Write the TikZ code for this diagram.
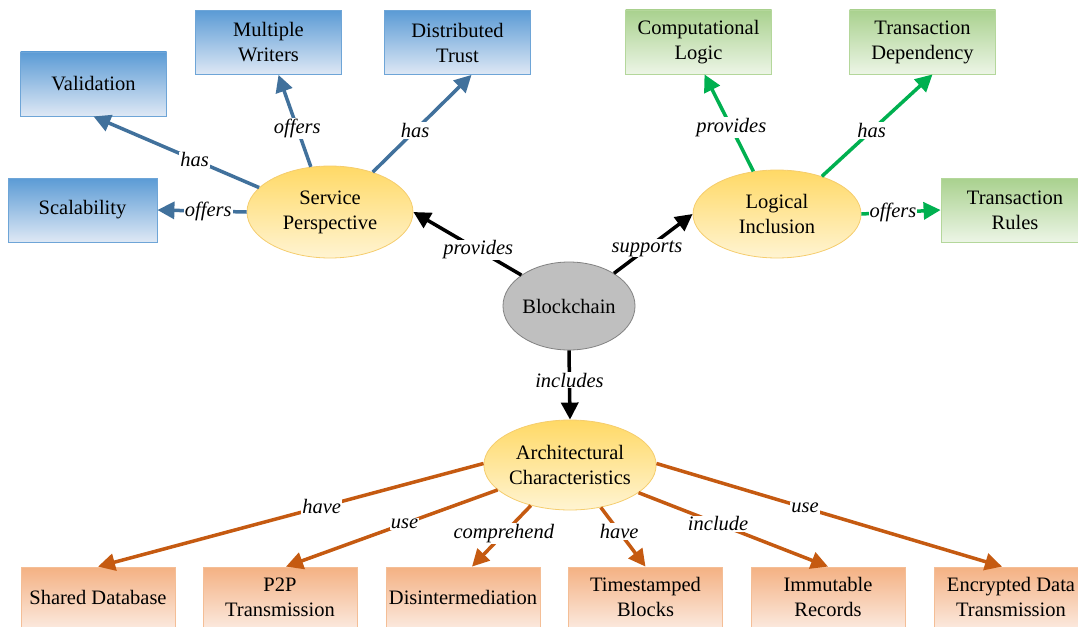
\documentclass[tikz,border=0pt]{standalone}
\usepackage{fontspec}
\setmainfont{Liberation Serif}
\newfontfamily\diagfont{Liberation Serif}
\usetikzlibrary{shapes.geometric,arrows.meta}
\definecolor{bluetop}{RGB}{91,155,213}
\definecolor{bluebot}{RGB}{222,232,245}
\definecolor{blueline}{RGB}{110,165,215}
\definecolor{bluearrow}{RGB}{65,113,156}
\definecolor{greentop}{RGB}{169,209,142}
\definecolor{greenbot}{RGB}{236,245,230}
\definecolor{greenline}{RGB}{180,215,155}
\definecolor{greenarrow}{RGB}{0,176,80}
\definecolor{orangetop}{RGB}{244,177,131}
\definecolor{orangebot}{RGB}{251,232,220}
\definecolor{orangeline}{RGB}{244,190,150}
\definecolor{orangearrow}{RGB}{197,90,17}
\definecolor{yellowtop}{RGB}{255,217,102}
\definecolor{yellowbot}{RGB}{255,244,210}
\definecolor{yellowline}{RGB}{245,205,110}
\definecolor{graybc}{RGB}{191,191,191}
\definecolor{graybcline}{RGB}{130,130,130}
\begin{document}
\begin{tikzpicture}[x=1pt,y=-1pt,
  font=\diagfont\fontsize{20.5}{25}\selectfont,
  bluebox/.style={draw=blueline,line width=0.8pt,top color=bluetop,bottom color=bluebot,minimum width=146pt,minimum height=64pt,inner sep=0pt,align=center},
  greenbox/.style={draw=greenline,line width=0.8pt,top color=greentop,bottom color=greenbot,minimum width=146pt,minimum height=64pt,inner sep=0pt,align=center},
  orangebox/.style={draw=orangeline,line width=0.8pt,top color=orangetop,bottom color=orangebot,minimum width=154pt,minimum height=60pt,inner sep=0pt,align=center},
  yellowell/.style={ellipse,draw=yellowline,line width=0.8pt,top color=yellowtop,bottom color=yellowbot,inner sep=0pt,align=center},
  grayell/.style={ellipse,draw=graybcline,line width=0.8pt,fill=graybc,inner sep=0pt,align=center},
  lbl/.style={fill=white,inner sep=1pt,font=\diagfont\fontsize{20.5}{25}\selectfont\itshape},
  ab/.style={draw=bluearrow,line width=3.5pt,-{Triangle[length=17pt,width=17pt]}},
  ag/.style={draw=greenarrow,line width=3.5pt,-{Triangle[length=17pt,width=17pt]}},
  ao/.style={draw=orangearrow,line width=3.5pt,-{Triangle[length=17pt,width=17pt]}},
  ak/.style={draw=black,line width=3.5pt,-{Triangle[length=17pt,width=17pt]}}
]
\useasboundingbox (0,0) rectangle (1078,626);

% blue boxes
\node[bluebox] (val) at (93.5,84) {Validation};
\node[bluebox] (mw) at (268.5,42.5) {Multiple\\Writers};
\node[bluebox] (dt) at (457.5,42.5) {Distributed\\Trust};
\node[bluebox,minimum width=149pt] (sc) at (82.5,210) {Scalability};
% green boxes
\node[greenbox] (cl) at (698.5,42) {Computational\\Logic};
\node[greenbox] (td) at (922.5,42) {Transaction\\Dependency};
\node[greenbox,minimum width=148pt] (tr) at (1015,210) {Transaction\\Rules};
% ellipses
\node[yellowell,minimum width=166pt,minimum height=92pt] (svc) at (330,212) {Service\\Perspective};
\node[yellowell,minimum width=168pt,minimum height=88pt] (li) at (777,214) {Logical\\Inclusion};
\node[grayell,minimum width=132pt,minimum height=88pt] (bc) at (569,306) {Blockchain};
\node[yellowell,minimum width=170pt,minimum height=90pt] (arch) at (570,465) {Architectural\\Characteristics};
% orange boxes
\node[orangebox] (sd) at (98,597) {Shared Database};
\node[orangebox] (p2p) at (280,597) {P2P\\Transmission};
\node[orangebox] (dis) at (463,597) {Disintermediation};
\node[orangebox] (ts) at (645.5,597) {Timestamped\\Blocks};
\node[orangebox] (im) at (828,597) {Immutable\\Records};
\node[orangebox] (enc) at (1011,597) {Encrypted Data\\Transmission};

% connectors
\draw[ab] (svc.161) -- node[lbl,pos=0.39]{has} (val.south);
\draw[ab] (svc.113) -- node[lbl,pos=0.42]{offers} ([xshift=10pt]mw.south);
\draw[ab] (svc.43) -- node[lbl,pos=0.43]{has} ([xshift=14pt]dt.south);
\draw[ab] (svc.west) -- node[lbl,pos=0.43]{offers} (sc.east);
\draw[ak] (bc.147) -- node[lbl,pos=0.4]{provides} (svc.east);
\draw[ak] (bc.36) -- node[lbl,pos=0.42]{supports} (li.west);
\draw[ag] (li.119) -- node[lbl,pos=0.45]{provides} ([xshift=6pt]cl.south);
\draw[ag] (li.40) -- node[lbl,pos=0.45]{has} ([xshift=10pt]td.south);
\draw[ag] (li.east) -- node[lbl,pos=0.4]{offers} (tr.west);
\draw[ak] (bc.south) -- node[lbl,pos=0.43]{includes} (arch.north);
\draw[ao] (arch.179) -- node[lbl,pos=0.42]{have} (sd.north);
\draw[ao] (arch.199) -- node[lbl,pos=0.44]{use} ([xshift=6pt]p2p.north);
\draw[ao] (arch.226) -- node[lbl,pos=0.46]{comprehend} ([xshift=9pt]dis.north);
\draw[ao] (arch.306) -- node[lbl,pos=0.41]{have} (ts.north);
\draw[ao] (arch.338) -- node[lbl,pos=0.42]{include} (im.north);
\draw[ao] (arch.1) -- node[lbl,pos=0.43]{use} ([xshift=-9pt]enc.north);
\end{tikzpicture}
\end{document}
